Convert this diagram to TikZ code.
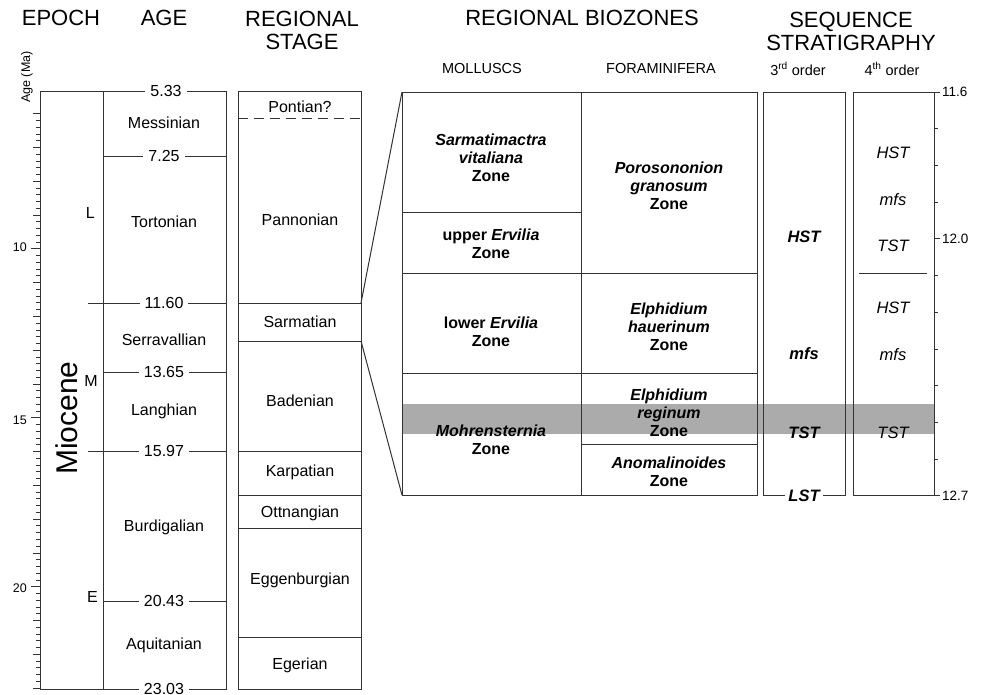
\documentclass[tikz,border=0pt]{standalone}
\usepackage{fontspec}
\setmainfont{Liberation Sans}
\usetikzlibrary{positioning}
\tikzstyle{rule} = [draw=black!80, line width=1pt]
\tikzstyle{head} = [align=center, font=\fontsize{22}{23}\selectfont, inner sep=0pt]
\tikzstyle{subhead} = [font=\fontsize{14.5}{16}\selectfont, inner sep=0pt]
\tikzstyle{unit} = [font=\fontsize{16}{18}\selectfont, inner sep=0pt]
\tikzstyle{bound} = [unit, fill=white, inner xsep=5pt, inner ysep=1pt]

\begin{document}
\begin{tikzpicture}[x=1pt, y=-1pt,
zone/.style={align=center, font=\fontsize{16}{18}\selectfont\bfseries, inner sep=0pt},
tract/.style={font=\fontsize{16.5}{18}\selectfont\itshape, inner sep=0pt},
axisnum/.style={font=\fontsize{12.5}{14}\selectfont, inner sep=0pt}
]
\useasboundingbox (0,0) rectangle (981,694);
\node[head] (epoch) at (61,18) {EPOCH};
\node[head] (age) at (164,18) {AGE};
\node[head] (stage) at (302,30) {REGIONAL\\STAGE};
\node[head] (bio) at (582,18) {REGIONAL BIOZONES};
\node[head] (seq) at (851,31) {SEQUENCE\\STRATIGRAPHY};
\node[subhead] (moll) at (482,69) {MOLLUSCS};
\node[subhead] (fora) at (661,69) {FORAMINIFERA};
\node[subhead] (third) at (798,69) {3\textsuperscript{rd} order};
\node[subhead] (fourth) at (892,69) {4\textsuperscript{th} order};
\node[axisnum, rotate=90] (agema) at (27,77) {Age (Ma)};

\fill[black!33] (402,404) rectangle (934,434);

\draw[rule] (40,91) rectangle (103,689);
\draw[rule] (103,91) rectangle (226,689);
\draw[rule] (238,91) rectangle (361,689);
\foreach \i in {30,...,115}{
  \pgfmathsetmacro{\yy}{91+(\i/5-5.33)*33.79}
  \pgfmathsetmacro{\len}{mod(\i,25)==0 ? 9 : (mod(\i,5)==0 ? 7 : 4)}
  \draw[rule, line width=0.8pt] (40,\yy) -- ++(-\len,0);
}
\node[axisnum, anchor=east] (t10) at (27,247) {10};
\node[axisnum, anchor=east] (t15) at (27,420) {15};
\node[axisnum, anchor=east] (t20) at (27,588) {20};

\node[unit, font=\fontsize{30}{32}\selectfont, rotate=90] (miocene) at (67,418) {Miocene};
\node[unit, anchor=east] (late) at (95,213) {L};
\node[unit, anchor=east] (middle) at (98,381) {M};
\node[unit, anchor=east] (early) at (98,597) {E};

\draw[rule] (103,156) -- (226,156);
\draw[rule] (88,303) -- (226,303);
\draw[rule] (103,372) -- (226,372);
\draw[rule] (88,451) -- (226,451);
\draw[rule] (103,601) -- (226,601);
\node[bound] (a533) at (166,91) {5.33};
\node[bound] (a725) at (164,156) {7.25};
\node[bound] (a1160) at (164,303) {11.60};
\node[bound] (a1365) at (164,372) {13.65};
\node[bound] (a1597) at (164,451) {15.97};
\node[bound] (a2043) at (164,601) {20.43};
\node[bound] (a2303) at (164,689) {23.03};
\node[unit] (messinian) at (164,123) {Messinian};
\node[unit] (tortonian) at (164,222) {Tortonian};
\node[unit] (serravallian) at (164,340) {Serravallian};
\node[unit] (langhian) at (164,411) {Langhian};
\node[unit] (burdigalian) at (164,527) {Burdigalian};
\node[unit] (aquitanian) at (164,645) {Aquitanian};

\draw[rule, dash pattern=on 10pt off 6pt] (238,118) -- (361,118);
\foreach \yy in {303,341,451,495,528,637}
  \draw[rule] (238,\yy) -- (361,\yy);
\node[unit] (pontian) at (300,107) {Pontian?};
\node[unit] (pannonian) at (300,220) {Pannonian};
\node[unit] (sarmatian) at (300,322) {Sarmatian};
\node[unit] (badenian) at (300,401) {Badenian};
\node[unit] (karpatian) at (300,472) {Karpatian};
\node[unit] (ottnangian) at (300,513) {Ottnangian};
\node[unit] (eggenburgian) at (300,580) {Eggenburgian};
\node[unit] (egerian) at (300,665) {Egerian};

\coordinate (sarmtop) at (361,303);
\coordinate (sarmbot) at (361,341);
\coordinate (biotop) at (402,92);
\coordinate (biobot) at (402,495);
\draw[rule] (sarmtop) -- (biotop);
\draw[rule] (sarmbot) -- (biobot);

\draw[rule] (biotop) rectangle (757,495);
\draw[rule] (581,92) -- (581,495);
\draw[rule] (402,212) -- (581,212);
\draw[rule] (402,273) -- (757,273);
\draw[rule] (402,373) -- (757,373);
\draw[rule] (581,444) -- (757,444);
\node[zone] (sarmatimactra) at (491,158) {\textit{Sarmatimactra}\\\textit{vitaliana}\\Zone};
\node[zone] (uppererv) at (491,244) {upper \textit{Ervilia}\\Zone};
\node[zone] (lowererv) at (491,332) {lower \textit{Ervilia}\\Zone};
\node[zone] (mohren) at (491,440) {\textit{Mohrensternia}\\Zone};
\node[zone] (poroso) at (669,186) {\textit{Porosononion}\\\textit{granosum}\\Zone};
\node[zone] (hauer) at (669,327) {\textit{Elphidium}\\\textit{hauerinum}\\Zone};
\node[zone] (regin) at (669,413) {\textit{Elphidium}\\\textit{reginum}\\Zone};
\node[zone] (anomal) at (669,472) {\textit{Anomalinoides}\\Zone};

\draw[rule] (763,92) rectangle (845,495);
\node[tract, font=\fontsize{16.5}{18}\selectfont\bfseries\itshape] (hst3) at (804,237) {HST};
\node[tract, font=\fontsize{16.5}{18}\selectfont\bfseries\itshape] (mfs3) at (804,354) {mfs};
\node[tract, font=\fontsize{16.5}{18}\selectfont\bfseries\itshape] (tst3) at (804,433) {TST};
\node[tract, font=\fontsize{16.5}{18}\selectfont\bfseries\itshape, fill=white, inner xsep=3pt] (lst3) at (804,496) {LST};

\draw[rule] (853,92) rectangle (934,495);
\draw[rule] (859,273) -- (927,273);
\node[tract] (hst4a) at (893,153) {HST};
\node[tract] (mfs4a) at (893,200) {mfs};
\node[tract] (tst4a) at (893,246) {TST};
\node[tract] (hst4b) at (893,308) {HST};
\node[tract] (mfs4b) at (893,355) {mfs};
\node[tract] (tst4b) at (893,433) {TST};

\foreach \k in {0,...,11}{
  \pgfmathsetmacro{\yy}{92+\k*36.7}
  \pgfmathsetmacro{\len}{(\k==0 || \k==4 || \k==11) ? 6 : 4}
  \draw[rule, line width=0.8pt] (934,\yy) -- ++(\len,0);
}
\node[axisnum, anchor=west, font=\fontsize{13.5}{15}\selectfont] (r116) at (942,92) {11.6};
\node[axisnum, anchor=west, font=\fontsize{13.5}{15}\selectfont] (r120) at (942,239) {12.0};
\node[axisnum, anchor=west, font=\fontsize{13.5}{15}\selectfont] (r127) at (942,496) {12.7};
\end{tikzpicture}
\end{document}
